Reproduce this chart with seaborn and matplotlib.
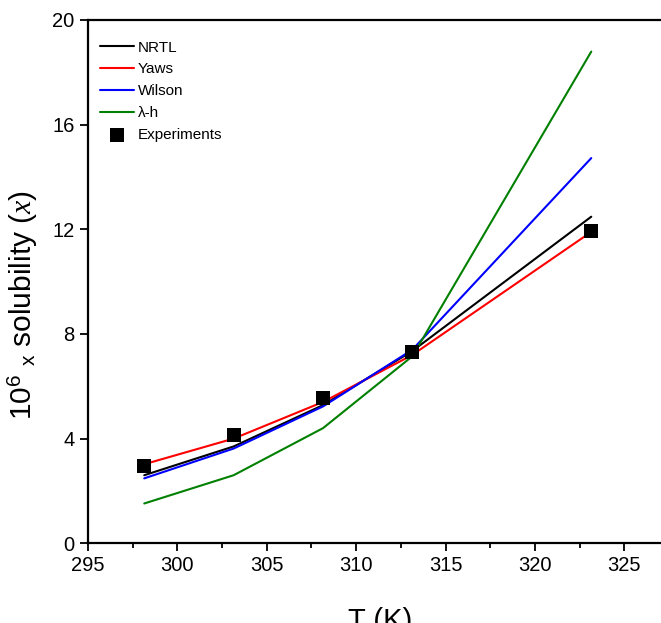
import numpy as np
import pandas as pd
import matplotlib
matplotlib.use("Agg")
import matplotlib.pyplot as plt
from matplotlib.ticker import MultipleLocator
import seaborn as sns

# =========================
# Data
# =========================
temps = [298.15, 303.15, 308.15, 313.15, 323.15]
nrtl = [2.60, 3.70, 5.28, 7.35, 12.48]
yaws = [3.02, 4.00, 5.40, 7.20, 11.90]
wilson = [2.48, 3.62, 5.23, 7.40, 14.72]
lambda_h = [1.52, 2.60, 4.40, 7.15, 18.79]
experiments = [2.94, 4.13, 5.54, 7.30, 11.93]

models = ["NRTL", "Yaws", "Wilson", "λ-h"]
model_values = [nrtl, yaws, wilson, lambda_h]
colors = ["black", "#ff0000", "#0000ff", "#008000"]

# =========================
# Style
# =========================
sns.set_style("ticks", {"axes.edgecolor": "black", "xtick.color": "black",
                        "ytick.color": "black", "text.color": "black",
                        "axes.labelcolor": "black"})
plt.rcParams["font.family"] = ["Liberation Sans", "DejaVu Sans"]
plt.rcParams["mathtext.fontset"] = "custom"
plt.rcParams["mathtext.rm"] = "Liberation Sans"
plt.rcParams["mathtext.it"] = "Liberation Serif:italic"

df = pd.DataFrame({
    "T": np.tile(temps, len(models)),
    "sol": np.concatenate(model_values),
    "model": np.repeat(models, len(temps)),
})
exp_df = pd.DataFrame({"T": temps, "sol": experiments})

fig = plt.figure(figsize=(6.61, 6.23), dpi=100)
ax = fig.add_axes([0.133, 0.128, 0.867, 0.84])

for name, col in zip(models, colors):
    sns.lineplot(data=df[df["model"] == name], x="T", y="sol", color=col,
                 linewidth=1.5, label=name, ax=ax)
sns.scatterplot(data=exp_df, x="T", y="sol", marker="s", s=110, color="black",
                linewidth=0, label="Experiments", ax=ax, zorder=5)

ax.set_xlim(295, 327.05)
ax.set_ylim(0, 20)
ax.xaxis.set_major_locator(MultipleLocator(5))
ax.xaxis.set_minor_locator(MultipleLocator(2.5))
ax.yaxis.set_major_locator(MultipleLocator(4))
ax.tick_params(which="major", direction="out", length=6, width=1.3,
               labelsize=14.5, colors="black")
ax.tick_params(which="minor", direction="out", length=3.5, width=1.3)
ax.spines["right"].set_visible(False)
for s in ["left", "bottom", "top"]:
    ax.spines[s].set_linewidth(1.6)

# labels (the x label is partly cut by the bottom edge, as in the original)
ax.set_xlabel("T (K)", fontsize=21)
ax.set_ylabel(r"$10^6$ $_{\mathrm{x}}$ solubility ($\mathit{x}$)", fontsize=21.5)
ax.xaxis.set_label_coords(0.51, -0.122)
ax.yaxis.set_label_coords(-0.084, 0.455)

ax.legend(loc="upper left", frameon=False, fontsize=11, handlelength=2.2,
          handletextpad=0.28, labelspacing=0.52, borderaxespad=0.4,
          borderpad=0.4, bbox_to_anchor=(0.0, 0.984))

fig.savefig("out.png", dpi=100)
